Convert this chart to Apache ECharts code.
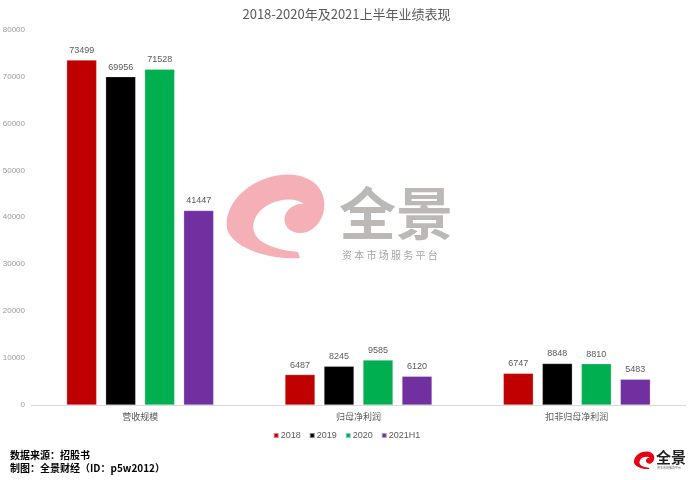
<!DOCTYPE html>
<html><head><meta charset="utf-8">
<script src="https://cdn.jsdelivr.net/npm/echarts@6/dist/echarts.min.js"></script>
<style>html,body{margin:0;padding:0;background:#fff}#c{width:693px;height:480px}</style>
</head><body><div id="c"></div>
<script>
const titleText = '2018-2020年及2021上半年业绩表现';
const categories = ['营收规模', '归母净利润', '扣非归母净利润'];
const seriesNames = ['2018', '2019', '2020', '2021H1'];
const v2018 = [73499, 6487, 6747];
const v2019 = [69956, 8245, 8848];
const v2020 = [71528, 9585, 8810];
const v2021H1 = [41447, 6120, 5483];
const colors = ['#C00000', '#000000', '#00B050', '#7030A0'];

const swirl = 'M78 90 C50 92 15 82 6 64 C0 45 15 20 45 10 C65 3 92 6 100 25 C106 40 100 58 85 64 C72 68 60 60 63 48 C65 40 75 35 82 36 C75 30 60 30 48 36 C35 42 28 55 33 66 C38 76 55 82 76 84 Z';
function svgUrl(fill) {
  const s = '<svg xmlns="http://www.w3.org/2000/svg" width="106" height="95" viewBox="0 0 106 95"><path d="' + swirl + '" fill="' + fill + '"/></svg>';
  return 'data:image/svg+xml;charset=utf-8,' + encodeURIComponent(s);
}

const allData = [v2018, v2019, v2020, v2021H1];
const chart = echarts.init(document.getElementById('c'));
chart.setOption({
  animation: false,
  title: {text: titleText, left: 'center', top: 3, textStyle: {fontSize: 13, fontWeight: 'normal', color: '#595959', fontFamily: 'Noto Sans CJK SC'}},
  legend: {data: seriesNames, bottom: 35, left: 'center', itemWidth: 5, itemHeight: 5, itemGap: 8, icon: 'rect',
    textStyle: {fontSize: 9, color: '#595959', padding: [0,0,0,-3]}},
  grid: {left: 31, right: 7, top: 29.5, bottom: 75, containLabel: false, outerBoundsMode: 'none'},
  xAxis: {type: 'category', data: categories, axisTick: {show: false},
    axisLine: {lineStyle: {color: '#d9d9d9'}},
    axisLabel: {fontSize: 9, color: '#595959', margin: 7, fontFamily: 'Noto Sans CJK SC'}},
  yAxis: {type: 'value', min: 0, max: 80000, interval: 10000, splitLine: {show: false},
    axisLabel: {fontSize: 8, color: '#999999', margin: 6, fontFamily: 'Liberation Sans', formatter: v => String(v)}},
  graphic: [
    {type: 'image', left: 222, top: 168, z: -10, style: {image: svgUrl('#F5B0B7'), width: 106, height: 95}},
    {type: 'text', left: 339, top: 185, z: -10, style: {text: '全景', fontSize: 57, fontWeight: 'bold', fill: '#BCB8B6', fontFamily: 'Noto Sans CJK SC'}},
    {type: 'text', left: 342, top: 250, z: -10, style: {text: '资 本 市 场 服 务 平 台', fontSize: 10, fill: '#A8A4A2', fontFamily: 'Noto Sans CJK SC'}},
    {type: 'text', left: 10, top: 450, style: {text: '数据来源：招股书', fontSize: 10, fontWeight: 'bold', fill: '#000', fontFamily: 'Noto Sans CJK SC'}},
    {type: 'text', left: 10, top: 463, style: {text: '制图：全景财经（ID：p5w2012）', fontSize: 10, fontWeight: 'bold', fill: '#000', fontFamily: 'Noto Sans CJK SC'}},
    {type: 'image', left: 633, top: 450, style: {image: svgUrl('#E60012'), width: 22, height: 20}},
    {type: 'text', left: 656, top: 450, style: {text: '全景', fontSize: 15, fontWeight: 'bold', fill: '#222', fontFamily: 'Noto Sans CJK SC'}},
    {type: 'text', left: 657, top: 466, style: {text: '资本市场服务平台', fontSize: 3, fill: '#666', fontFamily: 'Noto Sans CJK SC'}}
  ],
  series: seriesNames.map((n, i) => ({
    name: n, type: 'bar', data: allData[i], barWidth: 30, barGap: '30%',
    itemStyle: {color: colors[i], borderColor: 'rgba(255,255,255,0.5)', borderWidth: 0.5},
    label: {show: true, position: 'top', fontSize: 9, color: '#595959', distance: 5}
  }))
});
</script></body></html>
